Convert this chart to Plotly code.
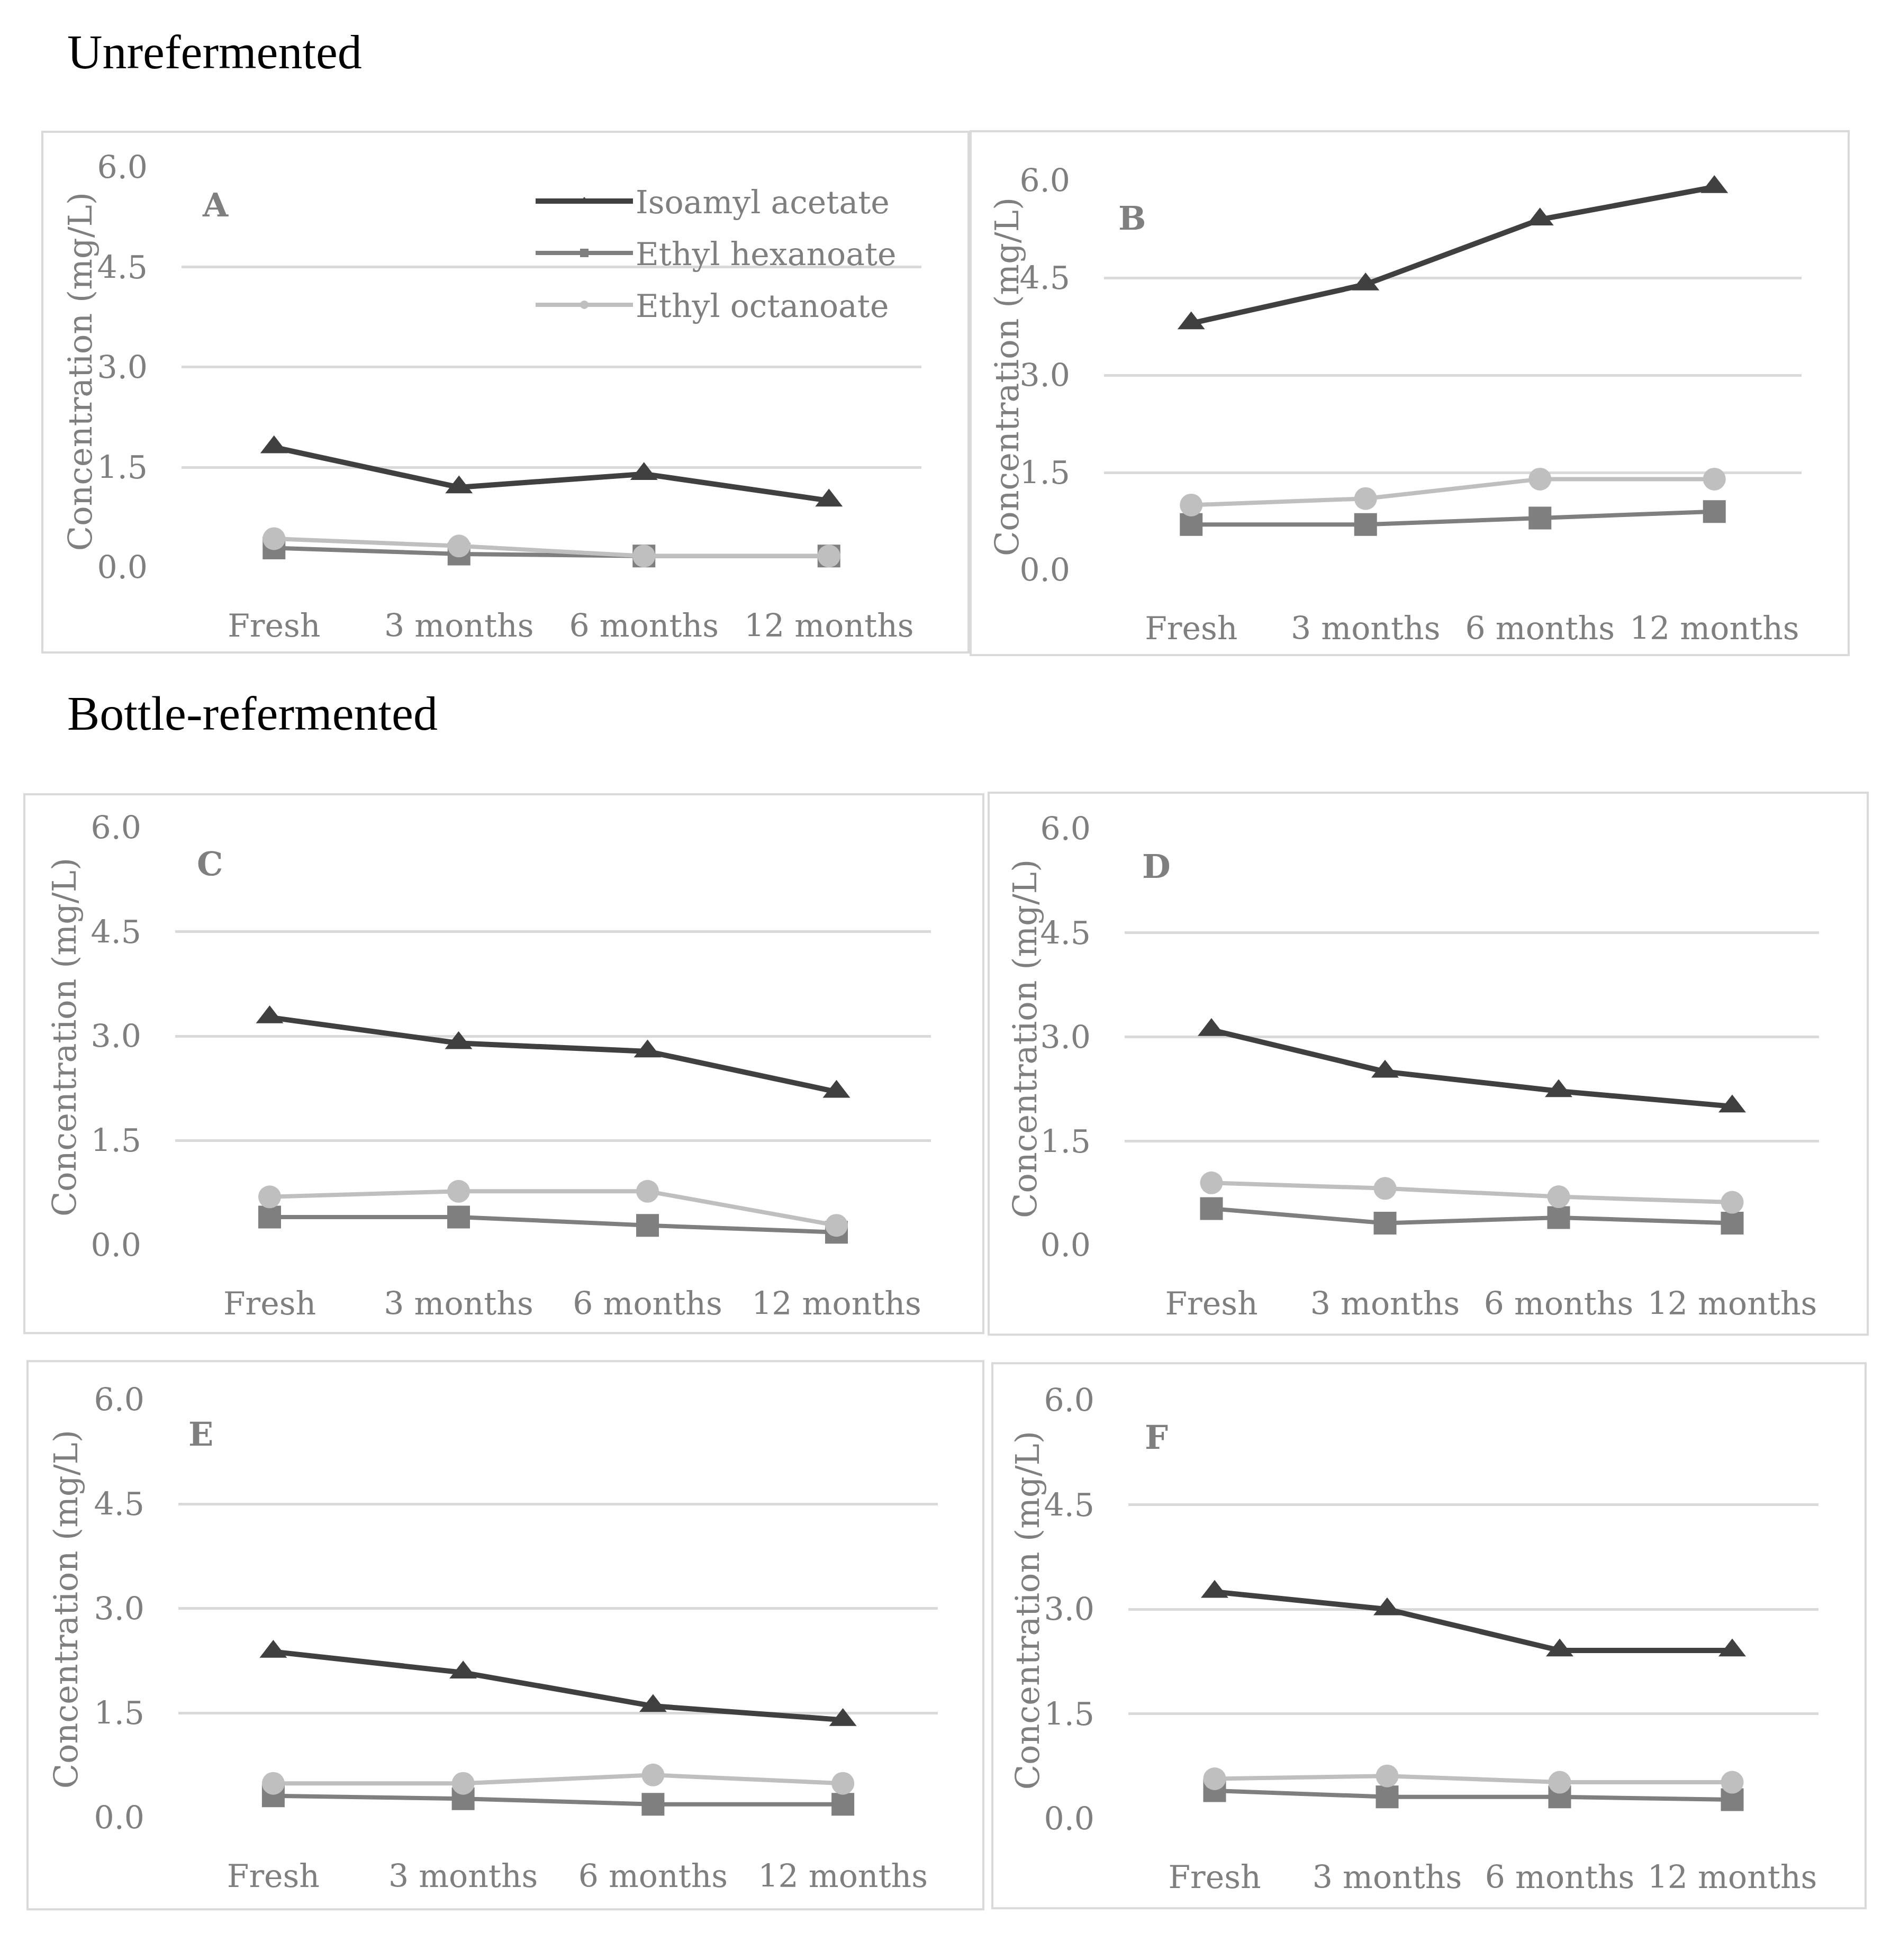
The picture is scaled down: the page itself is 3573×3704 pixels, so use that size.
import plotly.graph_objects as go

W, H = 3573, 3704
OFF = 8  # default page margin of the html body

# ---------------- data ----------------
categories = ["Fresh", "3 months", "6 months", "12 months"]
series_names = ["Isoamyl acetate", "Ethyl hexanoate", "Ethyl octanoate"]
panel_labels = ["A", "B", "C", "D", "E", "F"]
y_tick_values = [0.0, 1.5, 3.0, 4.5, 6.0]
y_tick_labels = ["0.0", "1.5", "3.0", "4.5", "6.0"]
group_titles = ["Unrefermented", "Bottle-refermented"]

A_isoamyl = [1.8, 1.2, 1.4, 1.0]
A_hexanoate = [0.29, 0.2, 0.17, 0.17]
A_octanoate = [0.43, 0.32, 0.17, 0.17]

B_isoamyl = [3.8, 4.4, 5.4, 5.9]
B_hexanoate = [0.7, 0.7, 0.8, 0.9]
B_octanoate = [1.0, 1.1, 1.4, 1.4]

C_isoamyl = [3.27, 2.9, 2.78, 2.2]
C_hexanoate = [0.4, 0.4, 0.28, 0.18]
C_octanoate = [0.69, 0.77, 0.77, 0.28]

D_isoamyl = [3.1, 2.5, 2.22, 2.0]
D_hexanoate = [0.53, 0.32, 0.4, 0.32]
D_octanoate = [0.9, 0.82, 0.7, 0.62]

E_isoamyl = [2.38, 2.08, 1.6, 1.4]
E_hexanoate = [0.31, 0.27, 0.19, 0.19]
E_octanoate = [0.49, 0.49, 0.61, 0.49]

F_isoamyl = [3.25, 3.0, 2.41, 2.41]
F_hexanoate = [0.4, 0.31, 0.31, 0.27]
F_octanoate = [0.57, 0.61, 0.52, 0.52]

panel_data = {
    "A": [A_isoamyl, A_hexanoate, A_octanoate],
    "B": [B_isoamyl, B_hexanoate, B_octanoate],
    "C": [C_isoamyl, C_hexanoate, C_octanoate],
    "D": [D_isoamyl, D_hexanoate, D_octanoate],
    "E": [E_isoamyl, E_hexanoate, E_octanoate],
    "F": [F_isoamyl, F_hexanoate, F_octanoate],
}

# ---------------- layout (page pixel geometry) ----------------
plot_rects = {
    "A": (343, 1741, 286, 1057),
    "B": (2086, 3404, 312, 1062),
    "C": (331, 1759, 1558, 2362),
    "D": (2125, 3437, 1560, 2363),
    "E": (337, 1772, 2660, 3465),
    "F": (2132, 3436, 2661, 3467),
}
boxes = {
    "A": (80, 1830, 218, 1221),
    "B": (1834, 3493, 217, 1226),
    "C": (46, 1858, 1494, 2532),
    "D": (1868, 3529, 1491, 2535),
    "E": (52, 1858, 2586, 3642),
    "F": (1875, 3525, 2590, 3640),
}
letter_pos = {
    "A": (407, 359), "B": (2139, 385), "C": (396, 1628),
    "D": (2185, 1633), "E": (379, 2727), "F": (2185, 2733),
}
ytitle_pos = {
    "A": (151, 680), "B": (1902, 690), "C": (121, 1962),
    "D": (1936, 1965), "E": (124, 3064), "F": (1941, 3066),
}
group_title_pos = [(125, 64), (125, 1338)]
legend_pos = (1007, 305)

colors = ["#404040", "#7f7f7f", "#bfbfbf"]
symbols = ["triangle-up", "square", "circle"]
msizes = [45, 43, 43]
lwidths = [10, 8, 8]
GRAY = "#7f7f7f"
GRID = "#d9d9d9"
FONT = "DejaVu Serif"


def px_x(v):
    return (v - OFF) / W


def px_y(v):
    return 1 - (v - OFF) / H


fig = go.Figure()
layout = {}
annotations = []
shapes = []

for i, p in enumerate(panel_labels):
    n = i + 1
    sfx = "" if n == 1 else str(n)
    xa, ya = "x" + sfx, "y" + sfx
    x0, x1, yt, yb = plot_rects[p]
    for k, vals in enumerate(panel_data[p]):
        fig.add_trace(go.Scatter(
            x=categories, y=vals, mode="lines+markers",
            name=series_names[k], legendgroup=series_names[k],
            showlegend=(i == 0), xaxis=xa, yaxis=ya,
            line=dict(color=colors[k], width=lwidths[k]),
            marker=dict(symbol=symbols[k], size=msizes[k], color=colors[k]),
            cliponaxis=False,
        ))
    layout["xaxis" + sfx] = dict(
        domain=[px_x(x0), px_x(x1)], anchor=ya, type="category",
        categoryorder="array", categoryarray=categories,
        range=[-0.5, 3.5], showgrid=False, zeroline=False, showline=False,
        ticks="outside", ticklen=58, tickcolor="rgba(0,0,0,0)",
        tickfont=dict(family=FONT, size=60, color=GRAY), fixedrange=True,
    )
    layout["yaxis" + sfx] = dict(
        domain=[px_y(yb), px_y(yt)], anchor=xa, range=[0, 6],
        tickvals=y_tick_values, ticktext=y_tick_labels,
        showgrid=True, gridcolor=GRID, gridwidth=5, zeroline=False,
        showline=False, ticks="outside", ticklen=51,
        tickcolor="rgba(0,0,0,0)",
        tickfont=dict(family=FONT, size=60, color=GRAY), fixedrange=True,
    )
    bx0, bx1, by0, by1 = boxes[p]
    shapes.append(dict(type="rect", xref="paper", yref="paper",
                       x0=px_x(bx0), x1=px_x(bx1), y0=px_y(by1), y1=px_y(by0),
                       line=dict(color=GRID, width=4), layer="below"))
    lx, ly = letter_pos[p]
    annotations.append(dict(text="<b>%s</b>" % p, xref="paper", yref="paper",
                            x=px_x(lx), y=px_y(ly), xanchor="center",
                            yanchor="middle", showarrow=False,
                            font=dict(family=FONT, size=62, color=GRAY)))
    tx, ty = ytitle_pos[p]
    annotations.append(dict(text="Concentration (mg/L)", xref="paper",
                            yref="paper", x=px_x(tx), y=px_y(ty),
                            xanchor="center", yanchor="middle",
                            textangle=-90, showarrow=False,
                            font=dict(family=FONT, size=62, color=GRAY)))

for t, (gx, gy) in zip(group_titles, group_title_pos):
    annotations.append(dict(text=t, xref="paper", yref="paper",
                            x=px_x(gx), y=px_y(gy), xanchor="left",
                            yanchor="middle", showarrow=False,
                            font=dict(family="Liberation Serif", size=92,
                                      color="#000000")))

fig.update_layout(
    width=W, height=H, margin=dict(l=0, r=0, t=0, b=0),
    paper_bgcolor="white", plot_bgcolor="white",
    showlegend=True,
    legend=dict(x=px_x(legend_pos[0]), y=px_y(legend_pos[1]),
                xanchor="left", yanchor="top",
                font=dict(family=FONT, size=60, color=GRAY),
                bgcolor="rgba(0,0,0,0)", itemwidth=184,
                traceorder="grouped", tracegroupgap=17),
    annotations=annotations, shapes=shapes,
    **layout,
)

fig.write_html("out.html")
